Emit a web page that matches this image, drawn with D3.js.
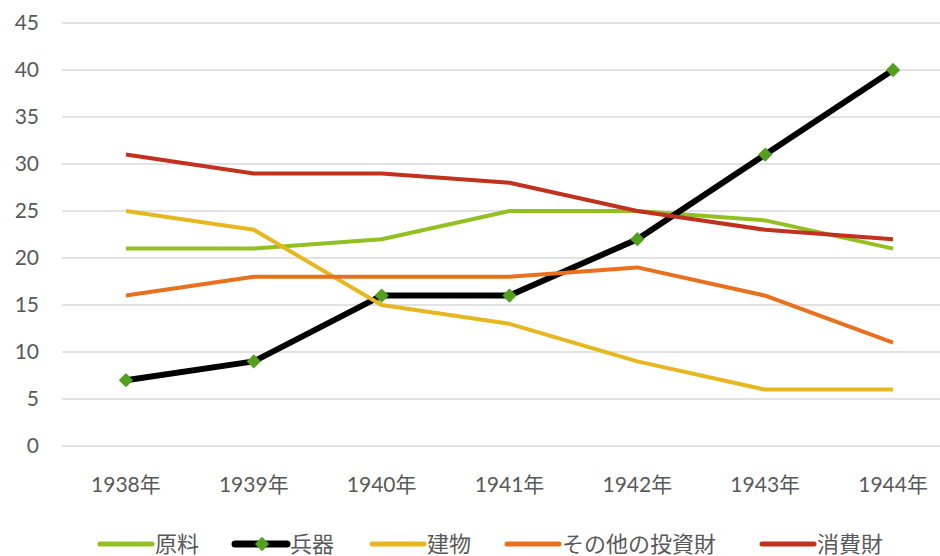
<!DOCTYPE html>
<html>
<head>
<meta charset="utf-8">
<script src="https://cdn.jsdelivr.net/npm/d3@7"></script>
<style>
  body { margin: 0; background: #fff; }
  text { font-family: "Lato", "Noto Sans CJK JP", sans-serif; fill: #595959; }
</style>
</head>
<body>
<div id="chart"></div>
<script>
// data
var years = ["1938年", "1939年", "1940年", "1941年", "1942年", "1943年", "1944年"];
var yTicks = [0, 5, 10, 15, 20, 25, 30, 35, 40, 45];
var genryo = [21, 21, 22, 25, 25, 24, 21];
var heiki = [7, 9, 16, 16, 22, 31, 40];
var tatemono = [25, 23, 15, 13, 9, 6, 6];
var sonota = [16, 18, 18, 18, 19, 16, 11];
var shohi = [31, 29, 29, 28, 25, 23, 22];

var seriesNames = ["原料", "兵器", "建物", "その他の投資財", "消費財"];

var width = 940, height = 556;

var series = [
  { name: seriesNames[0], values: genryo, color: "#92C021", w: 4 },
  { name: seriesNames[1], values: heiki, color: "#000000", w: 6, marker: "#52A01E" },
  { name: seriesNames[2], values: tatemono, color: "#E6B71E", w: 4 },
  { name: seriesNames[3], values: sonota, color: "#E8701E", w: 4 },
  { name: seriesNames[4], values: shohi, color: "#C2301E", w: 4 }
];

var svg = d3.select("#chart").append("svg")
  .attr("width", width)
  .attr("height", height);

var xScale = d3.scaleBand()
  .domain(years)
  .range([62, 957]);

var yScale = d3.scaleLinear()
  .domain([0, 45])
  .range([446, 23]);

// grid lines
svg.append("g")
  .selectAll("line")
  .data(yTicks)
  .enter().append("line")
  .attr("x1", 62)
  .attr("x2", width)
  .attr("y1", function (d) { return yScale(d); })
  .attr("y2", function (d) { return yScale(d); })
  .attr("stroke", "#d9d9d9")
  .attr("stroke-width", 1.5);

// y labels
svg.append("g")
  .selectAll("text")
  .data(yTicks)
  .enter().append("text")
  .attr("x", 39)
  .attr("y", function (d) { return yScale(d); })
  .attr("dy", "0.35em")
  .attr("text-anchor", "end")
  .attr("font-size", 21)
  .text(function (d) { return d; });

// x labels
svg.append("g")
  .selectAll("text")
  .data(years)
  .enter().append("text")
  .attr("x", function (d) { return xScale(d) + xScale.bandwidth() / 2; })
  .attr("y", 492)
  .attr("text-anchor", "middle")
  .attr("font-size", 21)
  .text(function (d) { return d; });

var line = d3.line()
  .x(function (d, i) { return xScale(years[i]) + xScale.bandwidth() / 2; })
  .y(function (d) { return yScale(d); });

// lines
series.forEach(function (s) {
  svg.append("path")
    .attr("d", line(s.values))
    .attr("fill", "none")
    .attr("stroke", s.color)
    .attr("stroke-width", s.w)
    .attr("stroke-linejoin", "round");
});

// markers for 兵器
var sym = d3.symbol().type(d3.symbolDiamond2).size(130);
svg.append("g")
  .selectAll("path")
  .data(heiki)
  .enter().append("path")
  .attr("d", sym)
  .attr("transform", function (d, i) {
    return "translate(" + (xScale(years[i]) + xScale.bandwidth() / 2) + "," + yScale(d) + ")";
  })
  .attr("fill", series[1].marker);

// legend
var legendX = [98, 233, 370, 505, 760];
var legendY = 544;
series.forEach(function (s, i) {
  var g = svg.append("g").attr("transform", "translate(" + legendX[i] + "," + legendY + ")");
  g.append("line")
    .attr("x1", 2).attr("x2", 54)
    .attr("y1", 0).attr("y2", 0)
    .attr("stroke", s.color)
    .attr("stroke-width", s.w + 1)
    .attr("stroke-linecap", "round");
  if (s.marker) {
    g.append("path")
      .attr("d", sym)
      .attr("transform", "translate(29,0)")
      .attr("fill", s.marker);
  }
  g.append("text")
    .attr("x", 57)
    .attr("y", 0)
    .attr("dy", "0.35em")
    .attr("font-size", 22)
    .text(s.name);
});
</script>
</body>
</html>
